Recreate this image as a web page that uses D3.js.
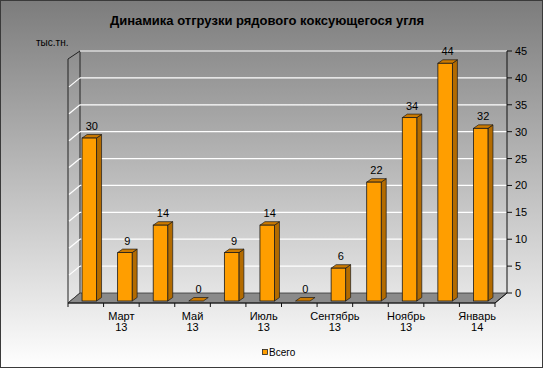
<!DOCTYPE html>
<html><head><meta charset="utf-8">
<script src="https://cdn.jsdelivr.net/npm/d3@7"></script>
<style>body{margin:0;padding:0;background:#fff}svg{display:block}</style>
</head><body>
<svg id="c" width="543" height="368"></svg>
<script>
const categories = ["Февраль\n13","Март\n13","Апрель\n13","Май\n13","Июнь\n13","Июль\n13","Август\n13","Сентябрь\n13","Октябрь\n13","Ноябрь\n13","Декабрь\n13","Январь\n14"];
const shownLabels = ["","Март\n13","","Май\n13","","Июль\n13","","Сентябрь\n13","","Ноябрь\n13","","Январь\n14"];
const values = [30.3, 9.0, 14.1, 0, 9.0, 14.1, 0, 6.1, 22.1, 34.1, 44.2, 32.1];
const valueLabels = ["30","9","14","0","9","14","0","6","22","34","44","32"];
const yTicks = [0,5,10,15,20,25,30,35,40,45];
const seriesName = "Всего";
const title = "Динамика отгрузки рядового коксующегося угля";
const unitLabel = "тыс.тн.";

const svg = d3.select("#c");
const font = "'Liberation Sans', Arial, sans-serif";
const W = 543, H = 368;

// background gradient
const defs = svg.append("defs");
const g = defs.append("linearGradient").attr("id","bg").attr("x1",0).attr("y1",0).attr("x2",0).attr("y2",1);
g.append("stop").attr("offset","0%").attr("stop-color","#7c7c7c");
g.append("stop").attr("offset","100%").attr("stop-color","#ffffff");
svg.append("rect").attr("x",0).attr("y",0).attr("width",W).attr("height",H).attr("fill","url(#bg)");
svg.append("rect").attr("x",0.5).attr("y",0.5).attr("width",W-1).attr("height",H-1).attr("fill","none").attr("stroke","#3a3a3a").attr("stroke-width",1);

// geometry
const backL = 80, backR = 507;
const DX = 12, DY = 10; // floor depth
const y = d3.scaleLinear().domain([0,45]).range([293,51]);
const xb = d3.scaleBand().domain(categories).range([backL, backR]).padding(0);
const xf = d3.scaleBand().domain(categories).range([backL-DX, backR-DX]).padding(0);

// left wall
svg.append("path")
  .attr("d", `M${backL-DX},${y(45)+DY-2} L${backL},${y(45)} L${backL},${y(0)} L${backL-DX},${y(0)+DY} Z`)
  .attr("fill","none").attr("stroke","#222").attr("stroke-width",1);
// left wall gridlines
yTicks.filter(t=>t>0 && t<45).forEach(t=>{
  svg.append("line").attr("x1",backL-DX+1).attr("y1",y(t)+DY-1).attr("x2",backL).attr("y2",y(t))
    .attr("stroke","#ffffff").attr("stroke-width",1.2);
});
// back wall gridlines
svg.append("g").selectAll("line").data(yTicks.filter(t=>t>0)).join("line")
  .attr("x1",backL).attr("x2",backR)
  .attr("y1",d=>y(d)).attr("y2",d=>y(d))
  .attr("stroke",d=>d===45?"#d8d8d8":"#ffffff").attr("stroke-width",1.3);

// floor
svg.append("path")
  .attr("d", `M${backL},${y(0)} L${backR},${y(0)} L${backR-DX},${y(0)+DY} L${backL-DX},${y(0)+DY} Z`)
  .attr("fill","#8a8a8a").attr("stroke","#333").attr("stroke-width",0.8);
svg.append("line").attr("x1",backL-DX).attr("x2",backR-DX).attr("y1",y(0)+DY).attr("y2",y(0)+DY).attr("stroke","#111").attr("stroke-width",1);

// category ticks
const fy = y(0)+DY;
svg.append("g").selectAll("line").data(categories.concat(["__end"])).join("line")
  .attr("x1",(d,i)=> (backL-DX) + i*xf.bandwidth())
  .attr("x2",(d,i)=> (backL-DX) + i*xf.bandwidth())
  .attr("y1",fy).attr("y2",fy+4).attr("stroke","#111");

// right axis
svg.append("line").attr("x1",backR).attr("x2",backR).attr("y1",y(45)).attr("y2",y(0)).attr("stroke","#111").attr("stroke-width",1);
svg.append("line").attr("x1",backR).attr("x2",backR-DX).attr("y1",y(0)).attr("y2",y(0)+DY).attr("stroke","#111").attr("stroke-width",1);
const ax = svg.append("g");
ax.selectAll("line").data(yTicks).join("line")
  .attr("x1",backR).attr("x2",backR+5).attr("y1",d=>y(d)).attr("y2",d=>y(d)).attr("stroke","#111");
ax.selectAll("text").data(yTicks).join("text")
  .attr("x",backR+8).attr("y",d=>y(d)+4)
  .attr("font-family",font).attr("font-size",11).attr("fill","#000")
  .text(d=>d);

// bars
const yf = v => y(v) + 8; // front face plane
const bw = 14.5, sdx = 5, sdy = 3.5;
const bars = svg.append("g");
categories.forEach((c,i)=>{
  const v = values[i];
  const cx = xb(c) + xb.bandwidth()/2 - 8.5;
  const x0 = cx - bw/2, x1 = cx + bw/2;
  const yt = yf(v), yb = yf(0);
  if (v > 0) {
    bars.append("path").attr("d",`M${x1},${yt} L${x1+sdx},${yt-sdy} L${x1+sdx},${yb-sdy} L${x1},${yb} Z`)
      .attr("fill","#b36b00").attr("stroke","#1a1a1a").attr("stroke-width",0.7);
    bars.append("path").attr("d",`M${x0},${yt} L${x0+sdx},${yt-sdy} L${x1+sdx},${yt-sdy} L${x1},${yt} Z`)
      .attr("fill","#cc7a00").attr("stroke","#1a1a1a").attr("stroke-width",0.7);
    bars.append("rect").attr("x",x0).attr("y",yt).attr("width",bw).attr("height",yb-yt)
      .attr("fill","#ff9e00").attr("stroke","#1a1a1a").attr("stroke-width",0.8);
  } else {
    bars.append("path").attr("d",`M${x0},${yb} L${x0+sdx},${yb-sdy} L${x1+sdx},${yb-sdy} L${x1},${yb} Z`)
      .attr("fill","#cc7a00").attr("stroke","#1a1a1a").attr("stroke-width",0.7);
  }
  bars.append("text").attr("x",cx+2.5).attr("y",yt-8)
    .attr("text-anchor","middle").attr("font-family",font).attr("font-size",11).attr("fill","#000")
    .text(valueLabels[i]);
});

// category labels
const cl = svg.append("g");
categories.forEach((c,i)=>{
  const lab = shownLabels[i];
  if (!lab) return;
  const cx = xf(c) + xf.bandwidth()/2;
  const parts = lab.split("\n");
  const t = cl.append("text").attr("text-anchor","middle").attr("font-family",font).attr("font-size",11).attr("fill","#000");
  parts.forEach((p,k)=> t.append("tspan").attr("x",cx).attr("y",319.5 + k*11).text(p));
});

// title
svg.append("text").attr("x",267).attr("y",25).attr("text-anchor","middle")
  .attr("font-family",font).attr("font-size",13).attr("font-weight","bold").attr("fill","#000").text(title);
svg.append("text").attr("x",36).attr("y",46).attr("font-family",font).attr("font-size",10).attr("fill","#000").text(unitLabel);

// legend
svg.append("rect").attr("x",262.5).attr("y",349.5).attr("width",5).attr("height",5).attr("fill","#ff9e00").attr("stroke","#222").attr("stroke-width",0.8);
svg.append("text").attr("x",269).attr("y",355.5).attr("font-family",font).attr("font-size",10).attr("fill","#000").text(seriesName);
</script>
</body></html>
